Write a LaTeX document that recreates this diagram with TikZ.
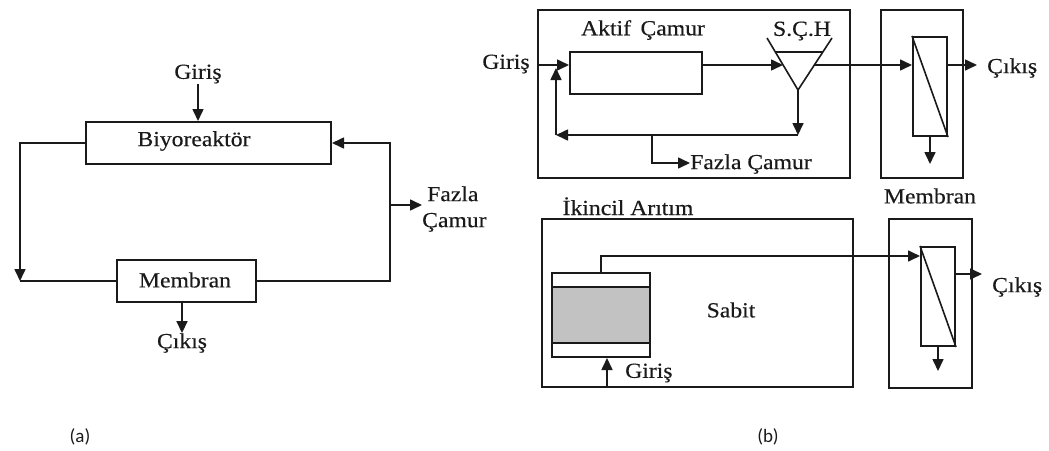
\documentclass[tikz,border=0pt]{standalone}
\usepackage{fontspec}
\setmainfont{Liberation Serif}[FakeStretch=1.1,FakeBold=0.35]
\newfontfamily\lblfont{Carlito}
\usetikzlibrary{arrows.meta}
\definecolor{ink}{HTML}{1A1A1A}
\definecolor{fillgrey}{HTML}{C2C2C2}
\begin{document}
\begin{tikzpicture}[x=1pt,y=-1pt,line join=miter,
  box/.style={draw=ink,line width=2pt,inner sep=0pt},
  conn/.style={draw=ink,line width=1.6pt},
  arr/.style={conn,-{Triangle[length=12pt,width=11pt]}},
  txt/.style={inner sep=0pt,font=\fontsize{21.5}{26}\selectfont,text=ink},
  sub/.style={inner sep=0pt,font=\lblfont\fontsize{19}{22}\selectfont,text=ink}]
\useasboundingbox (0,0) rectangle (1049,450);

% ---------------- (a) ----------------
\node[txt] (gA) at (198,74) {Giriş};
\node[box,minimum width=245pt,minimum height=42pt] (biyo) at (208.5,143) {};
\node[txt] (biyoT) at (194,141) {Biyoreaktör};
\node[box,minimum width=139pt,minimum height=42pt] (memA) at (186.5,281) {};
\node[txt] (memAT) at (185,280) {Membran};
\node[txt] (cA) at (182,343) {Çıkış};
\node[txt,anchor=west,align=left] (fzA) at (422,209) {\hspace*{5pt}Fazla\\Çamur};
\coordinate (cL) at (20,281);
\coordinate (cR) at (390,143);
\coordinate (fb) at (390,205);

\draw[arr] (gA.south) -- (gA.south |- biyo.north);
\draw[arr] (biyo.west) -| (cL);
\draw[conn] (cL) -- (memA.west);
\draw[arr] (memA.east) -| (cR) -- (biyo.east);
\draw[arr] (fb) -- (fb -| fzA.west);
\draw[arr] (memA.south -| cA) -- (cA.north);

% ---------------- (b) top ----------------
\node[box,minimum width=312pt,minimum height=168pt] (boxA) at (694,94) {};
\node[txt] (aktT) at (643,30) {Aktif\, Çamur};
\node[box,minimum width=132pt,minimum height=42pt] (akt) at (636,73) {};
\node[txt] (gB) at (506,64) {Giriş};
\node[txt] (sch) at (802,31) {S.Ç.H};
\coordinate (gin) at (538,65);
\coordinate (tL) at (767,38);
\coordinate (tR) at (832,38);
\coordinate (tB) at (798,90);
\coordinate (tLi) at (783,65);
\coordinate (tRi) at (814,65);
\draw[conn] (tL) -- (tB) -- (tR);
\draw[conn] (775,52) -- (823,52);

\coordinate (rc1) at (798,135);
\coordinate (rc2) at (556,135);
\coordinate (rc3) at (556,68);
\coordinate (fzb) at (652,135);
\coordinate (fzc) at (652,163);
\node[txt,anchor=west] (fzB) at (690,164) {Fazla Çamur};

\draw[arr] (gin) -- (gin -| akt.west);
\draw[arr] (akt.east |- gin) -- (tLi);
\draw[arr] (tB) -- (rc1);
\draw[arr] (rc1) -- (rc2);
\draw[arr] (rc2) -- (rc3);
\draw[arr] (fzb) -- (fzc) -- (fzc -| fzB.west);

% membrane top
\node[box,minimum width=82pt,minimum height=168pt] (mbA) at (922,94) {};
\node[box,minimum width=34pt,minimum height=99pt] (mA) at (930,86.5) {};
\draw[conn] (mA.north west) -- (mA.south east);
\draw[arr] (tRi) -- (tRi -| mA.west);
\node[txt,anchor=west] (cB1) at (987,68) {Çıkış};
\coordinate (mAo) at (977,65);
\draw[arr] (mA.east |- mAo) -- (mAo);
\coordinate (mAd) at (930,164);
\draw[arr] (mA.south) -- (mAd);
\node[txt] (memL) at (930,196) {Membran};

% ---------------- (b) bottom ----------------
\node[txt,anchor=base] (ika) at (628,215) {İkincil Arıtım};
\node[box,minimum width=311pt,minimum height=168pt] (boxB) at (697.5,303) {};
\fill[fillgrey] (552,287) rectangle (650,343);
\node[box,minimum width=98pt,minimum height=84pt] (rea) at (601,315) {};
\draw[conn,line width=1.8pt] (552,287) -- (650,287);
\draw[conn,line width=1.8pt] (552,343) -- (650,343);
\node[txt] (sab) at (731,310) {Sabit};
\node[txt,anchor=west] (gC) at (625,373) {Giriş};
\coordinate (gCb) at (607,387);
\draw[arr] (gCb) -- (gCb |- rea.south);
\coordinate (pipe) at (601,256);

\node[box,minimum width=83pt,minimum height=169pt] (mbB) at (930.5,303.5) {};
\node[box,minimum width=34pt,minimum height=99pt] (mB) at (938,296.5) {};
\draw[conn] (mB.north west) -- (mB.south east);
\draw[arr] (rea.north) -- (pipe) -- (pipe -| mB.west);
\node[txt,anchor=west] (cB2) at (992,287) {Çıkış};
\coordinate (mBo) at (982,274);
\draw[arr] (mB.east |- mBo) -- (mBo);
\coordinate (mBd) at (938,371);
\draw[arr] (mB.south) -- (mBd);

% sub labels
\node[sub] (la) at (80,437) {(a)};
\node[sub] (lb) at (768,437) {(b)};
\end{tikzpicture}
\end{document}
